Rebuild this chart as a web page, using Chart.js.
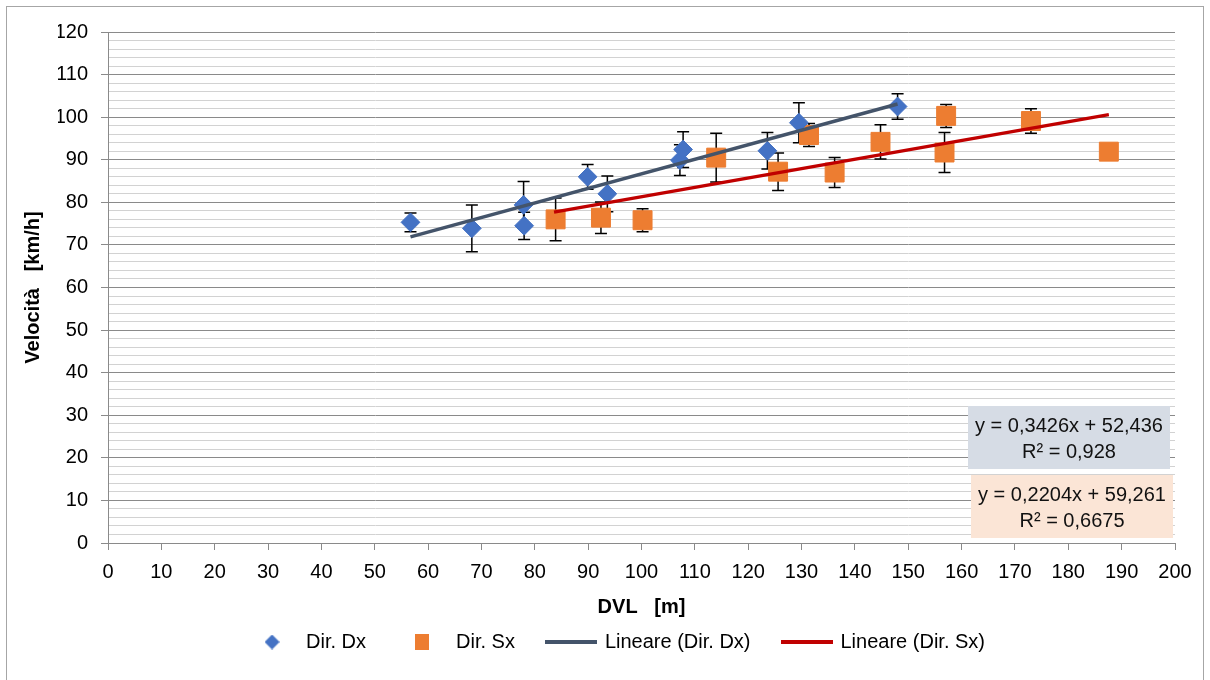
<!DOCTYPE html>
<html>
<head>
<meta charset="utf-8">
<script src="https://cdn.jsdelivr.net/npm/chart.js@4"></script>
<style>
  html, body { margin: 0; padding: 0; background: #fff; }
  canvas { display: block; }
</style>
</head>
<body>
<canvas id="chart" width="1210" height="680"></canvas>
<script>
// Dir. Dx (blue diamonds)
const dxX   = [56.7, 68.2, 77.9, 78.0, 89.9, 93.6, 107.2, 107.8, 123.6, 129.5, 148.0];
const dxY   = [75.3, 73.9, 79.4, 74.5, 86.0, 82.0, 89.9, 92.4, 92.1, 98.7, 102.5];
const dxErr = [2.2, 5.5, 5.5, 3.2, 2.9, 4.2, 3.6, 4.2, 4.3, 4.7, 3.0];

// Dir. Sx (orange squares)
const sxX   = [83.9, 92.4, 100.2, 114.0, 125.6, 131.4, 136.2, 144.8, 157.1, 156.8, 173.0, 187.6];
const sxY   = [76.0, 76.4, 75.8, 90.5, 87.2, 95.8, 87.0, 94.2, 100.3, 91.7, 99.1, 91.9];
const sxErr = [5.0, 3.7, 2.7, 5.7, 4.4, 2.7, 3.5, 4.0, 2.7, 4.7, 2.9, 0];

// trendline end points
const dxFitX = [56.7, 148.0];
const dxFitY = [71.9, 103.1];
const sxFitX = [83.6, 187.6];
const sxFitY = [77.7, 100.6];

const eqDx = ['y = 0,3426x + 52,436', 'R² = 0,928'];
const eqSx = ['y = 0,2204x + 59,261', 'R² = 0,6675'];

const seriesNames = ['Dir. Dx', 'Dir. Sx', 'Lineare (Dir. Dx)', 'Lineare (Dir. Sx)'];
const xTitle = 'DVL   [m]';
const yTitle = 'Velocità   [km/h]';

const BLUE = '#4472C4', ORANGE = '#ED7D31', SLATE = '#44546A', RED = '#C00000';
const GRID_MAJOR = '#8a8a8a', GRID_MINOR = '#d2d2d2';

const pts = (xs, ys) => xs.map((v, i) => ({x: v, y: ys[i]}));

function icon(w, h, draw) {
  const c = document.createElement('canvas');
  c.width = w; c.height = h;
  draw(c.getContext('2d'));
  return c;
}
const legendIcons = [
  icon(15, 15, g => { g.fillStyle = BLUE; g.beginPath(); g.moveTo(7.5, 0); g.lineTo(15, 7.5); g.lineTo(7.5, 15); g.lineTo(0, 7.5); g.closePath(); g.fill(); }),
  icon(14, 16, g => { g.fillStyle = ORANGE; g.fillRect(0, 0, 14, 16); }),
  icon(52, 4, g => { g.fillStyle = SLATE; g.fillRect(0, 0, 52, 4); }),
  icon(52, 4, g => { g.fillStyle = RED; g.fillRect(0, 0, 52, 4); })
];

const errorBars = {
  id: 'errorBars',
  beforeDatasetsDraw(chart) {
    const {ctx, scales: {x, y}} = chart;
    ctx.save();
    ctx.strokeStyle = '#000';
    ctx.lineWidth = 1.5;
    chart.data.datasets.forEach(ds => {
      if (!ds.errors) return;
      ds.data.forEach((p, i) => {
        const e = ds.errors[i];
        if (!e) return;
        const px = x.getPixelForValue(p.x);
        const top = y.getPixelForValue(p.y + e);
        const bot = y.getPixelForValue(p.y - e);
        ctx.beginPath();
        ctx.moveTo(px, top); ctx.lineTo(px, bot);
        ctx.moveTo(px - 6, top); ctx.lineTo(px + 6, top);
        ctx.moveTo(px - 6, bot); ctx.lineTo(px + 6, bot);
        ctx.stroke();
      });
    });
    ctx.restore();
  }
};

const frame = {
  id: 'frame',
  beforeDraw(chart) {
    const {ctx, width, height} = chart;
    ctx.save();
    ctx.fillStyle = '#fff';
    ctx.fillRect(0, 0, width, height);
    ctx.strokeStyle = '#a6a6a6';
    ctx.lineWidth = 1;
    ctx.strokeRect(6.5, 6.5, width - 13, height + 20);
    ctx.restore();
  }
};

const equations = {
  id: 'equations',
  afterDatasetsDraw(chart) {
    const {ctx, chartArea: a} = chart;
    const boxes = [
      {lines: eqDx, bg: '#D6DCE5', left: a.right - 207, top: a.bottom - 137},
      {lines: eqSx, bg: '#FBE5D6', left: a.right - 204, top: a.bottom - 68}
    ];
    ctx.save();
    ctx.font = '20px "Liberation Sans", Arial, sans-serif';
    ctx.textAlign = 'center';
    ctx.textBaseline = 'middle';
    boxes.forEach(b => {
      ctx.fillStyle = b.bg;
      ctx.fillRect(b.left, b.top, 202, 63);
      ctx.fillStyle = '#111';
      ctx.fillText(b.lines[0], b.left + 101, b.top + 20);
      ctx.fillText(b.lines[1], b.left + 101, b.top + 46);
    });
    ctx.restore();
  }
};

Chart.defaults.font.family = '"Liberation Sans", Arial, sans-serif';
Chart.defaults.font.size = 20;
Chart.defaults.color = '#000';

new Chart(document.getElementById('chart'), {
  type: 'scatter',
  data: {
    datasets: [
      {
        label: seriesNames[0], data: pts(dxX, dxY), errors: dxErr, order: 1,
        pointStyle: 'rectRot', pointRadius: 9.4, backgroundColor: BLUE, borderColor: BLUE, borderWidth: 1
      },
      {
        label: seriesNames[1], data: pts(sxX, sxY), errors: sxErr, order: 1,
        pointStyle: 'rect', pointRadius: 13.4, backgroundColor: ORANGE, borderColor: ORANGE, borderWidth: 1
      },
      {
        label: seriesNames[2], data: pts(dxFitX, dxFitY), order: 0, showLine: true,
        pointRadius: 0, borderColor: SLATE, backgroundColor: SLATE, borderWidth: 3.5
      },
      {
        label: seriesNames[3], data: pts(sxFitX, sxFitY), order: 0, showLine: true,
        pointRadius: 0, borderColor: RED, backgroundColor: RED, borderWidth: 3.5
      }
    ]
  },
  options: {
    responsive: false,
    devicePixelRatio: 1,
    animation: false,
    events: [],
    layout: {padding: {top: 32, left: 58, right: 35, bottom: 18}},
    scales: {
      x: {
        type: 'linear', min: 0, max: 200,
        ticks: {stepSize: 10, padding: 10, autoSkip: false, maxRotation: 0},
        grid: {drawOnChartArea: false, tickLength: 7, color: GRID_MAJOR},
        border: {color: GRID_MAJOR},
        title: {display: true, text: xTitle, font: {weight: 'bold', size: 20}, padding: {top: 0, bottom: -19}},
        afterFit(s) { s.height = 57; }
      },
      y: {
        type: 'linear', min: 0, max: 120,
        ticks: {
          stepSize: 2, padding: 13, autoSkip: false,
          callback: v => (v % 10 === 0 ? String(v) : '')
        },
        grid: {
          tickLength: 7,
          color: c => (c.tick && c.tick.value % 10 === 0 ? GRID_MAJOR : GRID_MINOR),
          tickColor: c => (c.tick && c.tick.value % 10 === 0 ? GRID_MAJOR : 'rgba(0,0,0,0)')
        },
        border: {color: GRID_MAJOR},
        title: {display: true, text: yTitle, font: {weight: 'bold', size: 20}, padding: {top: -37, bottom: 0}},
        afterFit(s) { s.width = 50; }
      }
    },
    plugins: {
      tooltip: {enabled: false},
      legend: {
        position: 'bottom',
        labels: {
          usePointStyle: true,
          pointStyleWidth: 48,
          padding: 32,
          color: '#000',
          font: {size: 20},
          generateLabels(chart) {
            const items = Chart.defaults.plugins.legend.labels.generateLabels(chart);
            items.sort((a, b) => a.datasetIndex - b.datasetIndex);
            items.forEach(it => { it.pointStyle = legendIcons[it.datasetIndex]; });
            return items;
          }
        }
      }
    }
  },
  plugins: [frame, errorBars, equations]
});
</script>
</body>
</html>
